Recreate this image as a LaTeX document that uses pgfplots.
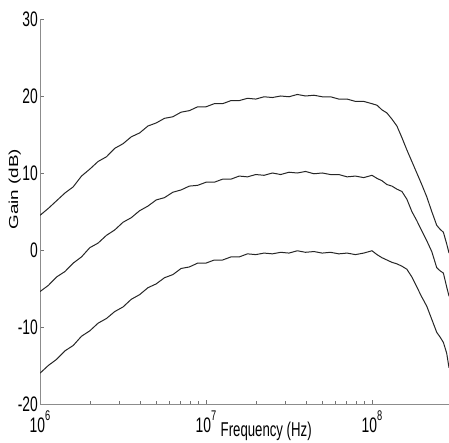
\documentclass[border=0pt]{standalone}
\usepackage{fontspec}
\setmainfont[FakeStretch=0.66]{Liberation Sans}
\newfontfamily\ylabfont[FakeStretch=1.45]{Liberation Sans}
\usepackage{pgfplots}
\usepackage{pgfplotstable}
\pgfplotsset{compat=1.18}

\pgfplotstableread{
f top mid bot
1.000e6 4.5 -5.4 -16.0
1.122e6 5.4 -4.6 -15.0
1.259e6 6.4 -3.5 -14.2
1.413e6 7.4 -2.8 -13.1
1.585e6 8.2 -1.7 -12.4
1.778e6 9.6 -0.9 -11.2
1.995e6 10.5 0.3 -10.5
2.239e6 11.5 0.9 -9.5
2.512e6 12.1 1.9 -8.9
2.818e6 13.2 2.6 -8.0
3.162e6 13.8 3.6 -7.4
3.548e6 14.7 4.2 -6.4
3.981e6 15.2 5.1 -5.8
4.467e6 16.1 5.7 -4.9
5.012e6 16.5 6.5 -4.4
5.623e6 17.1 6.8 -3.6
6.310e6 17.3 7.5 -3.2
7.079e6 17.9 7.8 -2.4
7.943e6 18.1 8.3 -2.2
8.913e6 18.6 8.4 -1.7
1.000e7 18.6 8.8 -1.7
1.122e7 19.0 8.8 -1.3
1.259e7 19.0 9.2 -1.3
1.413e7 19.4 9.2 -0.9
1.585e7 19.4 9.6 -0.9
1.778e7 19.7 9.5 -0.5
1.995e7 19.6 9.8 -0.6
2.239e7 19.9 9.7 -0.4
2.512e7 19.8 10.0 -0.5
2.818e7 20.0 9.8 -0.3
3.162e7 19.9 10.1 -0.4
3.548e7 20.2 10.0 -0.1
3.981e7 20.0 10.2 -0.3
4.467e7 20.1 9.9 -0.2
5.012e7 19.9 10.0 -0.4
5.623e7 19.9 9.8 -0.3
6.310e7 19.6 9.8 -0.5
7.079e7 19.6 9.5 -0.4
7.943e7 19.3 9.6 -0.6
8.913e7 19.3 9.4 -0.4
1.000e8 19.0 9.7 -0.1
1.072e8 18.8 9.3 -0.6
1.148e8 18.2 9.0 -1.0
1.230e8 17.8 8.5 -1.3
1.318e8 17.0 8.3 -1.6
1.413e8 16.1 7.9 -1.8
1.514e8 14.6 7.6 -2.1
1.622e8 13.0 6.6 -2.5
1.738e8 11.5 5.0 -3.5
1.862e8 10.0 3.8 -4.8
1.995e8 8.5 2.5 -6.1
2.138e8 6.9 1.2 -7.3
2.291e8 5.0 -0.2 -9.0
2.455e8 3.2 -2.3 -10.7
2.570e8 2.7 -2.7 -11.3
2.692e8 2.3 -3.0 -12.0
2.818e8 0.8 -4.8 -13.4
2.911e8 -0.4 -6.0 -15.3
}\gaindata

\begin{document}
\begin{tikzpicture}
\begin{axis}[
  at={(0,0)}, anchor=south west,
  scale only axis, width=409pt, height=385pt,
  xmode=log, xmin=1e6, xmax=2.911e8,
  ymin=-20, ymax=30,
  axis x line=bottom, axis y line=left,
  axis line style={-, black!45, line width=0.8pt},
  tick style={black!55, line width=0.6pt},
  tick align=inside,
  major tick length=4pt, minor tick length=3pt,
  xtick={1e6,1e7,1e8},
  xticklabels={10\raisebox{0.55em}{\fontsize{14}{14}\selectfont 6},
               10\raisebox{0.55em}{\fontsize{14}{14}\selectfont 7},
               10\raisebox{0.55em}{\fontsize{14}{14}\selectfont 8}},
  ytick={-20,-10,0,10,20,30},
  yticklabels={-20,-10,0,10,20,30},
  tick label style={font=\fontsize{21}{23}\selectfont},
  xticklabel style={anchor=north, inner sep=0pt, yshift=-7pt},
  yticklabel style={anchor=east, inner sep=0pt, xshift=-2pt},
  xlabel={Frequency (Hz)},
  xlabel style={at={(axis description cs:0.553,-0.07)}, anchor=center,
                font=\fontsize{20}{22}\selectfont},
  ylabel={Gain (dB)},
  ylabel style={at={(axis description cs:-0.062,0.558)}, anchor=center,
                font=\ylabfont\fontsize{13}{14}\selectfont},
]
\addplot[black!85, line width=1pt] table[x=f, y=top] {\gaindata};
\addplot[black!85, line width=1pt] table[x=f, y=mid] {\gaindata};
\addplot[black!85, line width=1pt] table[x=f, y=bot] {\gaindata};
\end{axis}
\pgfresetboundingbox
\path (-40pt,-39pt) rectangle (409pt,404pt);
\end{tikzpicture}
\end{document}
